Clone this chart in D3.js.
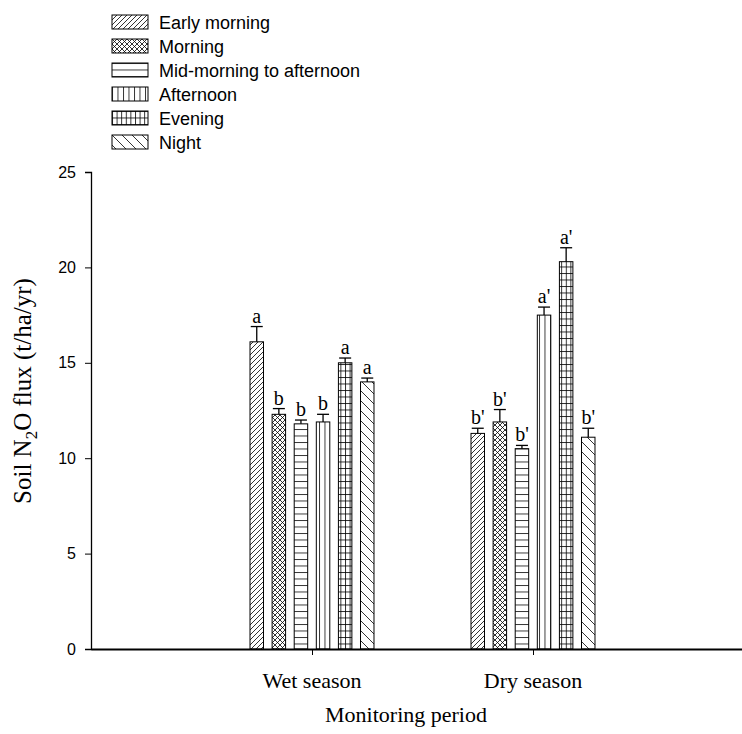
<!DOCTYPE html>
<html>
<head>
<meta charset="utf-8">
<script src="https://cdn.jsdelivr.net/npm/d3@7"></script>
<style>
  body { margin: 0; background: #fff; }
  svg { display: block; }
</style>
</head>
<body>
<svg id="chart" width="742" height="734"></svg>
<script>
const seasons = ["Wet season", "Dry season"];
const periods = ["Early morning", "Morning", "Mid-morning to afternoon", "Afternoon", "Evening", "Night"];
const wetMeans = [16.1, 12.3, 11.8, 11.9, 15.0, 14.0];
const wetErrors = [0.8, 0.3, 0.2, 0.4, 0.25, 0.2];
const dryMeans = [11.3, 11.9, 10.5, 17.5, 20.3, 11.1];
const dryErrors = [0.27, 0.65, 0.17, 0.42, 0.73, 0.47];
const wetLetters = ["a", "b", "b", "b", "a", "a"];
const dryLetters = ["b'", "b'", "b'", "a'", "a'", "b'"];
const yTicks = [0, 5, 10, 15, 20, 25];

const svg = d3.select("#chart");
const defs = svg.append("defs");

// hatch patterns, one per time of day
function makePattern(id, w, h, lines) {
    const p = defs.append("pattern")
        .attr("id", id)
        .attr("patternUnits", "userSpaceOnUse")
        .attr("width", w)
        .attr("height", h);
    p.append("rect").attr("width", w).attr("height", h).attr("fill", "#fff");
    lines.forEach(l => {
        p.append("line")
            .attr("x1", l[0]).attr("y1", l[1]).attr("x2", l[2]).attr("y2", l[3])
            .attr("stroke", "#000").attr("stroke-width", 0.8);
    });
}
makePattern("p0", 5, 5, [[0, 5, 5, 0], [-1, 1, 1, -1], [4, 6, 6, 4]]);
makePattern("p1", 5, 5, [[0, 5, 5, 0], [0, 0, 5, 5], [-1, 1, 1, -1], [4, 6, 6, 4], [-1, 4, 1, 6], [4, -1, 6, 1]]);
makePattern("p2", 10, 6.5, [[0, 0.5, 10, 0.5]]);
makePattern("p3", 5.5, 10, [[0.5, 0, 0.5, 10]]);
makePattern("p4", 4.6, 6.5, [[0, 0.5, 4.6, 0.5], [0.5, 0, 0.5, 6.5]]);
makePattern("p5", 10, 10, [[0, 0, 10, 10], [-1, 9, 1, 11], [9, -1, 11, 1]]);

const x = d3.scaleLinear().domain([0, 3]).range([91, 754]);
const y = d3.scaleLinear().domain([0, 25]).range([649, 172]);
const inner = d3.scaleBand().domain(periods).range([-0.3, 0.3])
    .paddingInner(0.39).paddingOuter(0.195);

const data = [];
seasons.forEach((s, i) => {
    const means = i === 0 ? wetMeans : dryMeans;
    const errs = i === 0 ? wetErrors : dryErrors;
    const letters = i === 0 ? wetLetters : dryLetters;
    periods.forEach((p, j) => {
        data.push({ season: s, pos: i + 1, period: p, idx: j, mean: means[j], err: errs[j], letter: letters[j] });
    });
});

const bw = x(inner.bandwidth()) - x(0);
const barX = d => x(d.pos + inner(d.period));

// bars
svg.append("g").selectAll("rect")
    .data(data)
    .enter().append("rect")
    .attr("x", barX)
    .attr("y", d => y(d.mean))
    .attr("width", bw)
    .attr("height", d => y(0) - y(d.mean))
    .attr("fill", d => `url(#p${d.idx})`)
    .attr("stroke", "#000")
    .attr("stroke-width", 1);

// error bars
const eb = svg.append("g").attr("stroke", "#000").attr("stroke-width", 1.3);
eb.selectAll(".stem").data(data).enter().append("line")
    .attr("x1", d => barX(d) + bw / 2).attr("x2", d => barX(d) + bw / 2)
    .attr("y1", d => y(d.mean)).attr("y2", d => y(d.mean + d.err));
eb.selectAll(".cap").data(data).enter().append("line")
    .attr("x1", d => barX(d) + bw / 2 - 6).attr("x2", d => barX(d) + bw / 2 + 6)
    .attr("y1", d => y(d.mean + d.err)).attr("y2", d => y(d.mean + d.err));

// significance letters
svg.append("g").selectAll("text")
    .data(data)
    .enter().append("text")
    .attr("x", d => barX(d) + bw / 2)
    .attr("y", d => y(d.mean + d.err) - 4)
    .attr("text-anchor", "middle")
    .attr("font-family", "'Liberation Serif', 'Times New Roman', serif")
    .attr("font-size", 20)
    .text(d => d.letter);

// y axis
const yAxis = svg.append("g")
    .attr("transform", `translate(${x(0)},0)`)
    .call(d3.axisLeft(y).tickValues(yTicks).tickSize(6).tickPadding(9));
yAxis.select(".domain").attr("stroke-width", 1.3);
yAxis.selectAll("text").attr("font-family", "'Liberation Sans', Arial, sans-serif").attr("font-size", 16).attr("fill", "#000");

// x axis
const xAxis = svg.append("g")
    .attr("transform", `translate(0,${y(0)})`)
    .call(d3.axisBottom(x).tickValues([1, 2]).tickSize(6).tickSizeOuter(0).tickFormat(""));
xAxis.select(".domain").attr("stroke-width", 1.8);

svg.append("g").selectAll("text")
    .data(seasons)
    .enter().append("text")
    .attr("x", (d, i) => x(i + 1))
    .attr("y", 688)
    .attr("text-anchor", "middle")
    .attr("font-family", "'Liberation Serif', 'Times New Roman', serif")
    .attr("font-size", 22)
    .text(d => d);

svg.append("text")
    .attr("x", 406)
    .attr("y", 722)
    .attr("text-anchor", "middle")
    .attr("font-family", "'Liberation Serif', 'Times New Roman', serif")
    .attr("font-size", 22)
    .text("Monitoring period");

const yl = svg.append("text")
    .attr("transform", "translate(31,391) rotate(-90)")
    .attr("text-anchor", "middle")
    .attr("font-family", "'Liberation Serif', 'Times New Roman', serif")
    .attr("font-size", 25);
yl.append("tspan").text("Soil N");
yl.append("tspan").attr("font-size", 17).attr("dy", 6).text("2");
yl.append("tspan").attr("dy", -6).text("O flux (t/ha/yr)");

// legend
const legend = svg.append("g").selectAll("g")
    .data(periods)
    .enter().append("g")
    .attr("transform", (d, i) => `translate(112,${15 + i * 24})`);
legend.append("rect")
    .attr("width", 36).attr("height", 14)
    .attr("fill", (d, i) => `url(#p${i})`)
    .attr("stroke", "#000").attr("stroke-width", 1);
legend.append("text")
    .attr("x", 47).attr("y", 14)
    .attr("font-family", "'Liberation Sans', Arial, sans-serif")
    .attr("font-size", 18)
    .text(d => d);
</script>
</body>
</html>
